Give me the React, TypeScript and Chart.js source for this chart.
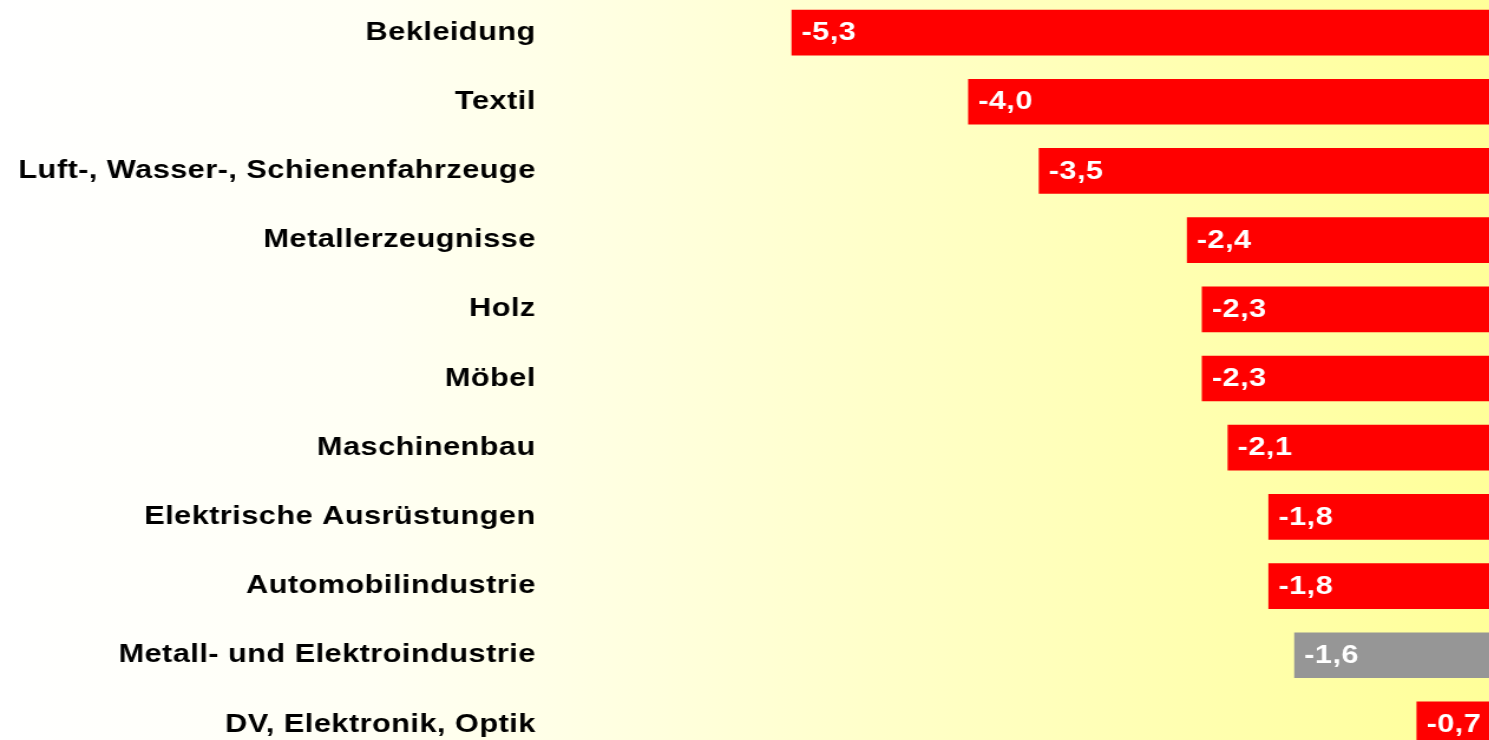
import React, { useEffect, useRef } from "react";
import { Chart, registerables } from "chart.js";

Chart.register(...registerables);

const categories: string[] = [
  "Bekleidung",
  "Textil",
  "Luft-, Wasser-, Schienenfahrzeuge",
  "Metallerzeugnisse",
  "Holz",
  "Möbel",
  "Maschinenbau",
  "Elektrische Ausrüstungen",
  "Automobilindustrie",
  "Metall- und Elektroindustrie",
  "DV, Elektronik, Optik",
];

const values: number[] = [-5.3, -4.0, -3.48, -2.39, -2.28, -2.28, -2.09, -1.79, -1.79, -1.6, -0.7];

const barColors: string[] = [
  "#FF0000", "#FF0000", "#FF0000", "#FF0000", "#FF0000", "#FF0000",
  "#FF0000", "#FF0000", "#FF0000", "#969696", "#FF0000",
];

const axisMin = -7;
const axisMax = 0;

// horizontal stretch of the whole drawing (the reference text is wide)
const STRETCH = 1.18;
const INNER_W = 1281;
const INNER_H = 761;
const Y_AXIS_W = 475;
const FONT_FAMILY = "'Liberation Sans', Arial, sans-serif";

const fmt = (v: number) => v.toFixed(1).replace(".", ",");

const spacingPlugin = {
  id: "spacing",
  beforeDraw(chart: any) {
    (chart.ctx as any).letterSpacing = "0.4px";
  },
};

const valueLabelPlugin = {
  id: "valueLabels",
  afterDatasetsDraw(chart: any) {
    const ctx = chart.ctx;
    const meta = chart.getDatasetMeta(0);
    ctx.save();
    (ctx as any).letterSpacing = "0.4px";
    ctx.font = `bold 26px ${FONT_FAMILY}`;
    ctx.fillStyle = "#FFFFFF";
    ctx.textAlign = "left";
    ctx.textBaseline = "middle";
    meta.data.forEach((el: any, i: number) => {
      const left = Math.min(el.x, el.base);
      ctx.fillText(fmt(values[i]), left + 8.5, el.y + 0.5);
    });
    ctx.restore();
  },
};

export default function App() {
  const ref = useRef<HTMLCanvasElement | null>(null);

  useEffect(() => {
    if (!ref.current) return;
    const chart = new Chart(ref.current, {
      type: "bar",
      data: {
        labels: categories,
        datasets: [
          {
            data: values,
            backgroundColor: barColors,
            borderWidth: 0,
            barPercentage: 0.66,
            categoryPercentage: 1,
          },
        ],
      },
      options: {
        indexAxis: "y",
        animation: false,
        responsive: true,
        maintainAspectRatio: false,
        devicePixelRatio: 1,
        layout: { padding: 0 },
        plugins: {
          legend: { display: false },
          tooltip: { enabled: false },
          title: { display: false },
        },
        scales: {
          x: {
            display: false,
            min: axisMin,
            max: axisMax,
          },
          y: {
            position: "left",
            grid: { display: false, drawTicks: false },
            border: { display: false },
            afterFit(scale: any) {
              scale.width = Y_AXIS_W;
              scale.paddingTop = 0;
              scale.paddingBottom = 0;
            },
            ticks: {
              padding: 21,
              labelOffset: 0,
              color: "#000000",
              font: { family: FONT_FAMILY, size: 26, weight: "bold" },
              autoSkip: false,
            },
          },
        },
      },
      plugins: [spacingPlugin, valueLabelPlugin],
    } as any);
    return () => chart.destroy();
  }, []);

  return (
    <div
      style={{
        position: "fixed",
        left: 0,
        top: 0,
        width: 1489,
        height: 740,
        overflow: "hidden",
        background:
          "linear-gradient(to right, #FFFFFF 0%, #FFFFF4 25%, #FFFFE8 36%, #FFFFC8 60%, #FFFFAA 85%, #FFFF99 100%)",
      }}
    >
      <div
        style={{
          position: "absolute",
          left: 0,
          top: -2,
          width: INNER_W,
          height: INNER_H,
          transform: `scaleX(${STRETCH})`,
          transformOrigin: "0 0",
        }}
      >
        <canvas ref={ref} />
      </div>
    </div>
  );
}
